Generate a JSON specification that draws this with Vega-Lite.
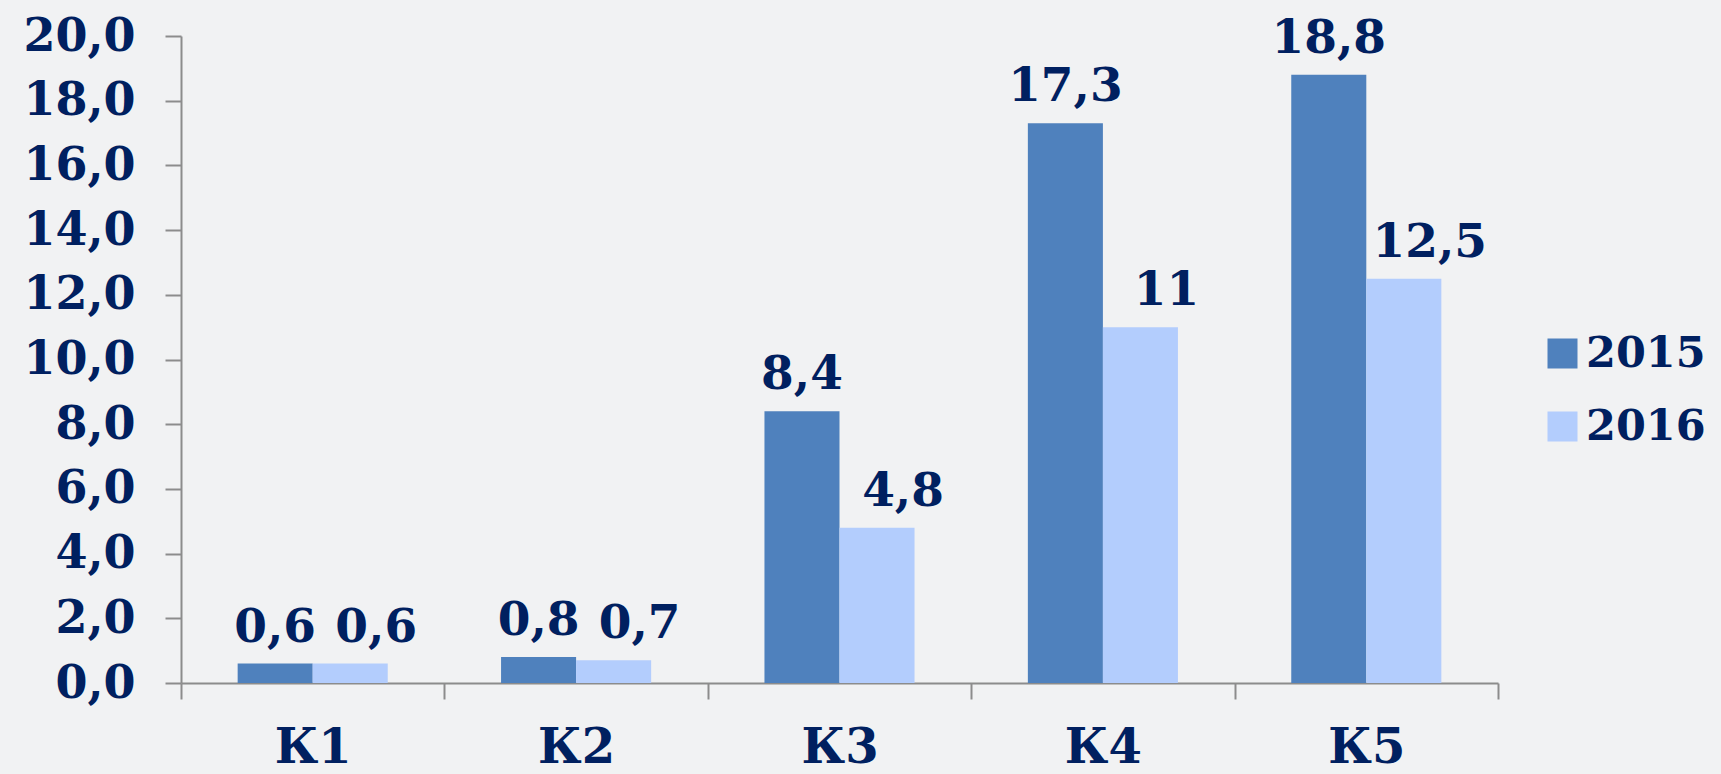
{
  "$schema": "https://vega.github.io/schema/vega-lite/v6.json",
  "autosize": "none",
  "width": 1317,
  "height": 647,
  "padding": {"left": 181, "top": 36, "right": 223, "bottom": 91},
  "background": "#f1f2f3",
  "config": {
    "view": {"stroke": null},
    "font": "DejaVu Serif"
  },
  "data": {
    "values": [
      {"cat": "К1", "year": "2015", "value": 0.6, "label": "0,6"},
      {"cat": "К1", "year": "2016", "value": 0.6, "label": "0,6"},
      {"cat": "К2", "year": "2015", "value": 0.8, "label": "0,8"},
      {"cat": "К2", "year": "2016", "value": 0.7, "label": "0,7"},
      {"cat": "К3", "year": "2015", "value": 8.4, "label": "8,4"},
      {"cat": "К3", "year": "2016", "value": 4.8, "label": "4,8"},
      {"cat": "К4", "year": "2015", "value": 17.3, "label": "17,3"},
      {"cat": "К4", "year": "2016", "value": 11, "label": "11"},
      {"cat": "К5", "year": "2015", "value": 18.8, "label": "18,8"},
      {"cat": "К5", "year": "2016", "value": 12.5, "label": "12,5"}
    ]
  },
  "encoding": {
    "x": {
      "field": "cat", "type": "nominal", "sort": null,
      "scale": {"paddingInner": 0, "paddingOuter": 0},
      "axis": {
        "title": null, "labelAngle": 0,
        "domainColor": "#8c8c8c", "domainWidth": 2,
        "tickColor": "#8c8c8c", "tickWidth": 2, "tickSize": 16, "tickBand": "extent",
        "labelFont": "DejaVu Serif", "labelFontWeight": "bold", "labelFontSize": 48,
        "labelColor": "#002060", "labelPadding": 25
      }
    },
    "xOffset": {"field": "year", "type": "nominal", "scale": {"paddingInner": 0, "paddingOuter": 0.755}},
    "y": {
      "field": "value", "type": "quantitative",
      "scale": {"domain": [0, 20], "nice": false},
      "axis": {
        "title": null, "values": [0, 2, 4, 6, 8, 10, 12, 14, 16, 18, 20],
        "labelExpr": "replace(format(datum.value, '.1f'), '.', ',')",
        "grid": false,
        "domainColor": "#8c8c8c", "domainWidth": 2,
        "tickColor": "#8c8c8c", "tickWidth": 2, "tickSize": 16,
        "labelFont": "DejaVu Serif", "labelFontWeight": "bold", "labelFontSize": 46,
        "labelColor": "#002060", "labelPadding": 30
      }
    }
  },
  "layer": [
    {
      "mark": {"type": "bar"},
      "encoding": {
        "color": {
          "field": "year", "type": "nominal",
          "scale": {"domain": ["2015", "2016"], "range": ["#4f81bd", "#b3cdfd"]},
          "legend": {
            "title": null, "orient": "none", "legendX": 1360, "legendY": 296,
            "symbolType": "square", "symbolSize": 900, "symbolStrokeWidth": 0,
            "labelFont": "DejaVu Serif", "labelFontWeight": "bold", "labelFontSize": 43,
            "labelColor": "#002060", "labelOffset": 2, "rowPadding": 29, "labelLimit": 300
          }
        }
      }
    },
    {
      "transform": [{"filter": "datum.year == '2015'"}],
      "mark": {"type": "text", "baseline": "alphabetic", "dy": -22, "font": "DejaVu Serif", "fontWeight": "bold", "fontSize": 47, "color": "#002060"},
      "encoding": {"text": {"field": "label"}}
    },
    {
      "transform": [{"filter": "datum.year == '2016'"}],
      "mark": {"type": "text", "baseline": "alphabetic", "dy": -22, "dx": 26, "font": "DejaVu Serif", "fontWeight": "bold", "fontSize": 47, "color": "#002060"},
      "encoding": {"text": {"field": "label"}}
    }
  ]
}
